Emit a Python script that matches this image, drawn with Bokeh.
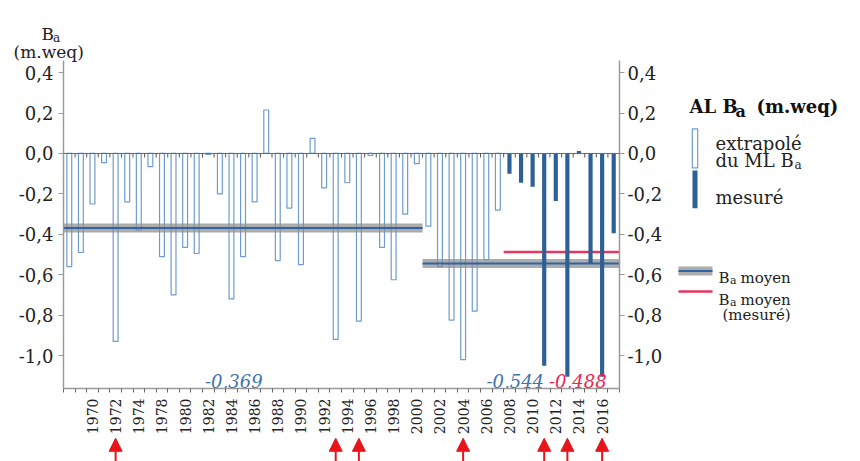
import math
from bokeh.plotting import figure
from bokeh.models import Range1d, FixedTicker, LinearAxis, Span, ColumnDataSource, Arrow, NormalHead
from bokeh.layouts import row, column
from bokeh.core.properties import value
from bokeh.embed import file_html
from bokeh.resources import INLINE

FONT = "DejaVu Serif"

# ---------------- data ----------------
# annual balance extrapolated from the ML series (hollow bars)
extrap_values = [-0.56, -0.49, -0.25, -0.045, -0.93, -0.24, -0.38, -0.065, -0.51, -0.70,
                 -0.465, -0.495, -0.005, -0.20, -0.72, -0.51, -0.24, 0.215, -0.53, -0.27,
                 -0.55, 0.075, -0.17, -0.92, -0.145, -0.83, -0.01, -0.465, -0.625, -0.30,
                 -0.05, -0.36, -0.56, -0.825, -1.02, -0.78, -0.525, -0.28]
# measured annual balance (solid bars)
measured_values = [-0.10, -0.145, -0.165, -1.05, -0.235, -1.105, 0.012, -0.545, -1.105, -0.395]

# x-axis labels as printed (every second bar)
xtick_labels = ["1970", "1972", "1974", "1978", "1980", "1982", "1984", "1986", "1988",
                "1990", "1992", "1994", "1996", "1998", "2000", "2002", "2004", "2006",
                "2008", "2010", "2012", "2014", "2016"]
ytick_values = [0.4, 0.2, 0.0, -0.2, -0.4, -0.6, -0.8, -1.0]

# period means (first / last bar index of each period)
period_first = [0, 31]
period_last = [30, 47]
period_means = [-0.369, -0.544]
measured_first = 38
measured_last = 47
measured_mean = -0.488

# bars marked with a red arrow
event_bars = [4, 23, 25, 34, 41, 43, 46]

# ---------------- styles ----------------
HOLLOW = "#6d9ccf"
SOLID = "#2c6096"
BAND = "#8c8c8c"
BAND_LINE = "#2f64a0"
RED = "#e8365e"
ARROW_RED = "#e8141c"
AXIS = "#9a9a9a"
TXT = "#222222"
BLUE_TXT = "#3f73ad"
RED_TXT = "#f0234f"

n_ext = len(extrap_values)
n_all = n_ext + len(measured_values)
ext_x = list(range(n_ext))
mes_x = list(range(n_ext, n_all))
xtick_pos = [2 + 2 * k for k in range(len(xtick_labels))]
boundaries = [i - 0.5 for i in range(n_all + 1)]

def fmt(v):
    s = f"{v:.1f}".replace(".", ",")
    return "0,0" if s == "-0,0" else s

X0, X1 = -0.5, n_all - 0.5
Y0, Y1 = -1.163, 0.46
x_range = Range1d(X0, X1)
y_range = Range1d(Y0, Y1)

LEFT, RIGHT = 63, 51
FW, FH = 556, 328
TOP = 60
BOTTOM = 46
ARR_H = 461 - TOP - FH - BOTTOM

# page-pixel -> data helpers (for text placed in the borders)
def xd(px):
    return X0 + (px - LEFT) * (X1 - X0) / FW

def yd(py):
    return Y1 - (py - TOP) * (Y1 - Y0) / FH

p = figure(frame_width=FW, frame_height=FH, x_range=x_range, y_range=y_range,
           output_backend="svg", toolbar_location=None,
           min_border_left=LEFT, min_border_right=RIGHT, min_border_top=TOP,
           min_border_bottom=BOTTOM)
p.outline_line_color = None
p.grid.visible = False

# x axis
xa = p.xaxis[0]
xa.ticker = FixedTicker(ticks=xtick_pos, minor_ticks=boundaries)
xa.major_label_overrides = {pos: lab for pos, lab in zip(xtick_pos, xtick_labels)}
xa.major_label_orientation = math.pi / 2
xa.major_label_text_font = FONT
xa.major_label_text_font_size = "14px"
xa.major_label_text_color = TXT
xa.major_label_standoff = 6
xa.major_tick_line_color = None
xa.major_tick_out = 4
xa.major_tick_in = 0
xa.minor_tick_out = 4
xa.minor_tick_in = 0
xa.minor_tick_line_color = "#666666"
xa.axis_line_color = AXIS
xa.axis_line_width = 1.5

def style_y(ax, standoff):
    ax.ticker = FixedTicker(ticks=ytick_values)
    ax.major_label_overrides = {v: fmt(v) for v in ytick_values}
    ax.major_label_text_font = FONT
    ax.major_label_text_font_size = "18px"
    ax.major_label_text_color = TXT
    ax.major_label_standoff = standoff
    ax.major_tick_out = 5
    ax.major_tick_in = 0
    ax.major_tick_line_color = AXIS
    ax.minor_tick_line_color = None
    ax.axis_line_color = AXIS
    ax.axis_line_width = 1.5

style_y(p.yaxis[0], 5)
ry = LinearAxis()
style_y(ry, 3)
p.add_layout(ry, "right")

# zero line with small ticks at every bar boundary
p.add_layout(Span(location=0, dimension="width", line_color="#666666", line_width=1))
p.segment(x0=boundaries, y0=[0] * len(boundaries), x1=boundaries, y1=[-0.02] * len(boundaries),
          line_color="#555555", line_width=1)

# hollow bars
p.vbar(x=ext_x, top=extrap_values, bottom=0, width=0.42, fill_color="white",
       line_color=HOLLOW, line_width=1.2)

# mean bands
x0s = [a - 0.5 for a in period_first]
x1s = [b + 0.5 for b in period_last]
p.segment(x0=x0s, y0=period_means, x1=x1s, y1=period_means, line_color=BAND,
          line_alpha=0.72, line_width=9)
p.segment(x0=x0s, y0=period_means, x1=x1s, y1=period_means, line_color=BAND_LINE,
          line_width=2)
p.segment(x0=[measured_first - 0.5], y0=[measured_mean], x1=[measured_last + 0.5],
          y1=[measured_mean], line_color=RED, line_width=2.5)

# measured bars
p.vbar(x=mes_x, top=measured_values, bottom=0, width=0.36, fill_color=SOLID, line_color=None)

# mean labels
mean_vals = period_means + [measured_mean]
mean_txt = [f"{m:.3f}".replace(".", ",") for m in mean_vals]
p.text(x=[14.2, 38.5, 43.9], y=[-1.128] * 3, text=mean_txt,
       text_color=[BLUE_TXT, BLUE_TXT, RED_TXT], text_font=value(FONT),
       text_font_style="italic", text_font_size="18px", text_align="center",
       text_baseline="alphabetic")

# axis title above the left axis (in the top border, drawn unclipped)
p.text(x=[xd(41)], y=[yd(33)], text=["B"], text_font=value(FONT), text_font_size="17px",
       text_color=TXT, text_align="left", text_baseline="alphabetic", level="overlay")
p.text(x=[xd(52.5)], y=[yd(37)], text=["a"], text_font=value(FONT), text_font_size="12px",
       text_color=TXT, text_align="left", text_baseline="alphabetic", level="overlay")
p.text(x=[xd(13)], y=[yd(51)], text=["(m.weq)"], text_font=value(FONT), text_font_size="17px",
       text_color=TXT, text_align="left", text_baseline="alphabetic", level="overlay")

# ---------------- arrows strip ----------------
pa = figure(frame_width=FW, frame_height=ARR_H, x_range=x_range, y_range=Range1d(0, 1.03),
            output_backend="svg", toolbar_location=None,
            min_border_left=LEFT, min_border_right=RIGHT, min_border_top=0, min_border_bottom=0,
            x_axis_location=None, y_axis_location=None)
pa.outline_line_color = None
pa.grid.visible = False
asrc = ColumnDataSource(dict(x=event_bars, y0=[0] * len(event_bars), y1=[1.0] * len(event_bars)))
pa.add_layout(Arrow(end=NormalHead(size=13, fill_color=ARROW_RED, line_color=ARROW_RED, line_width=1),
                    x_start="x", y_start="y0", x_end="x", y_end="y1", source=asrc,
                    line_color=ARROW_RED, line_width=2))

# ---------------- legend panel ----------------
HW = LEFT + FW + RIGHT
LW, LH = 860 - HW, 461
pl = figure(width=LW, height=LH, x_range=Range1d(0, LW), y_range=Range1d(LH, 0),
            output_backend="svg", toolbar_location=None, min_border=0,
            x_axis_location=None, y_axis_location=None)
pl.outline_line_color = None
pl.grid.visible = False

def ltext(x, y, t, size, style="normal", align="left", color=TXT):
    pl.text(x=[x], y=[y], text=[t], text_font=value(FONT), text_font_size=size,
            text_font_style=style, text_color=color, text_align=align,
            text_baseline="alphabetic")

ltext(19, 105.7, "AL B", "18px", "bold", color="#111111")
ltext(65, 110.5, "a", "16px", "bold", color="#111111")
ltext(86, 105.7, "(m.weq)", "18px", "bold", color="#111111")

pl.rect(x=[24.5], y=[147.8], width=5.4, height=39, fill_color="white", line_color=HOLLOW, line_width=1.2)
pl.rect(x=[24.5], y=[188.8], width=5, height=37.7, fill_color=SOLID, line_color=None)
ltext(45, 143.3, "extrapolé", "18px")
ltext(45, 160, "du ML B", "18px")
ltext(124, 164, "a", "12px")
ltext(45, 196.7, "mesuré", "18px")

pl.segment(x0=[8], y0=[270.5], x1=[42], y1=[270.5], line_color=BAND, line_alpha=0.72, line_width=9)
pl.segment(x0=[8], y0=[270.5], x1=[42], y1=[270.5], line_color=BAND_LINE, line_width=2)
ltext(48, 277, "B", "15px")
ltext(59.5, 280, "a", "11px")
ltext(70, 277, "moyen", "15px")

pl.segment(x0=[8], y0=[291], x1=[42], y1=[291], line_color=RED, line_width=2.5)
ltext(48, 299, "B", "15px")
ltext(59.5, 302, "a", "11px")
ltext(70, 299, "moyen", "15px")
ltext(52, 314, "(mesuré)", "15px")

layout = row(column(p, pa), pl)
open("out.html", "w").write(file_html(layout, INLINE, title="AL Ba"))
